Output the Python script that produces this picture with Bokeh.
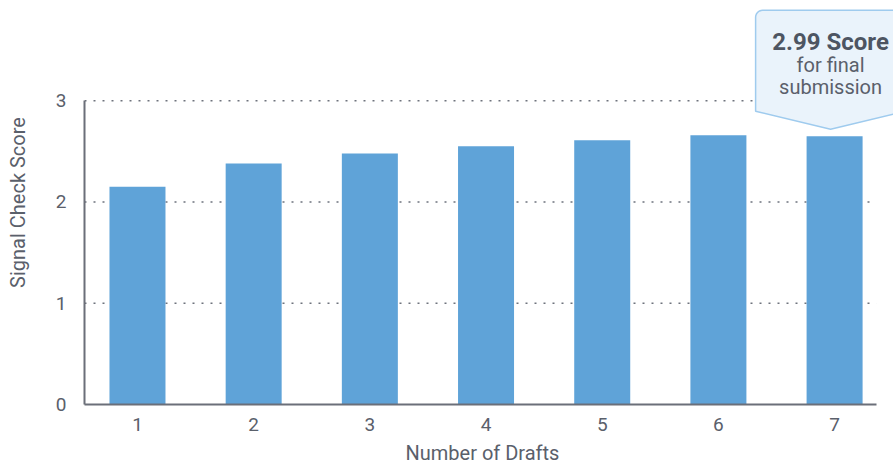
import numpy as np
from bokeh.plotting import figure
from bokeh.models import FixedTicker, Range1d, Title
from bokeh.core.properties import value
from bokeh.embed import file_html
from bokeh.resources import INLINE

# ---- data ----
drafts = [1, 2, 3, 4, 5, 6, 7]
scores = [2.15, 2.38, 2.48, 2.55, 2.61, 2.66, 2.65]
y_ticks = [0, 1, 2, 3]
grid_levels = [1, 2, 3]
x_title = "Number of Drafts"
y_title = "Signal Check Score"
callout_title = "2.99 Score"
callout_lines = ["for final", "submission"]

FONT = "Roboto"
BAR = "#5fa3d8"
AXIS = "#6b6f79"
TEXT = "#5a606b"

X0, X_AXIS_END, X1 = 0.544, 7.361, 7.507
Y0, Y1 = 0.0, 3.99

p = figure(width=893, height=469, output_backend="svg", toolbar_location=None,
           x_range=Range1d(X0, X1), y_range=Range1d(Y0, Y1),
           min_border_left=84, min_border_right=0, min_border_top=0,
           min_border_bottom=65)
p.outline_line_color = None
p.grid.visible = False

px_x = 116.2   # pixels per x unit
px_y = 101.33  # pixels per y unit

# dotted gridlines (stop at the axis end)
p.segment(x0=[X0] * len(grid_levels), x1=[X_AXIS_END] * len(grid_levels),
          y0=grid_levels, y1=grid_levels, line_color="#6e737d",
          line_width=1.6, line_dash="2 7")

p.vbar(x=drafts, top=scores, width=0.482, bottom=0, fill_color=BAR, line_color=None)

# axes
for ax in (p.xaxis[0], p.yaxis[0]):
    ax.axis_line_color = AXIS
    ax.axis_line_width = 2
    ax.major_tick_line_color = None
    ax.minor_tick_line_color = None
    ax.major_label_text_font = FONT
    ax.major_label_text_font_size = "19px"
    ax.major_label_text_color = TEXT
    ax.axis_label_text_font = FONT
    ax.axis_label_text_font_size = "20px"
    ax.axis_label_text_font_style = "normal"
    ax.axis_label_text_color = TEXT

p.xaxis.ticker = FixedTicker(ticks=drafts)
p.xaxis.bounds = (X0, X_AXIS_END)
p.xaxis.major_label_standoff = 7

# x-axis title centred under the drawn axis line (as a below-title)
p.add_layout(Title(text=x_title, align="left", offset=321, standoff=10,
                   text_font=FONT, text_font_size="20px", text_color=TEXT,
                   text_font_style="normal", vertical_align="bottom"), "below")

p.yaxis.ticker = FixedTicker(ticks=y_ticks)
p.yaxis.bounds = (0, 3)
p.yaxis.axis_label = y_title
p.yaxis.major_label_standoff = 12
p.yaxis.axis_label_standoff = 23

# ---- callout above last bar ----
cx = drafts[-1] - 4 / px_x
tip_y = scores[-1] + 7 / px_y
hw = 75 / px_x
bot_y = tip_y + 18 / px_y
top_y = tip_y + 119 / px_y
r = 7
ang = np.linspace(np.pi, np.pi / 2, 8)
arc_l_x = list(cx - hw + (r + r * np.cos(ang)) / px_x)
arc_l_y = list(top_y - (r - r * np.sin(ang)) / px_y)
ang2 = np.linspace(np.pi / 2, 0, 8)
arc_r_x = list(cx + hw - (r - r * np.cos(ang2)) / px_x)
arc_r_y = list(top_y - (r - r * np.sin(ang2)) / px_y)
xs = [cx - hw, cx, cx + hw] + list(reversed(arc_r_x)) + list(reversed(arc_l_x))
ys = [bot_y, tip_y, bot_y] + list(reversed(arc_r_y)) + list(reversed(arc_l_y))
p.patch(xs, ys, fill_color="#eaf3fb", line_color="#9fcbee", line_width=1.5)

p.text(x=[cx], y=[tip_y + 87 / px_y], text=[callout_title],
       text_font=value(FONT), text_font_size="24px", text_font_style="bold",
       text_color="#4d5562", text_align="center", text_baseline="middle")
p.text(x=[cx] * 2, y=[tip_y + 64 / px_y, tip_y + 42 / px_y], text=callout_lines,
       text_font=value(FONT), text_font_size="20px",
       text_color=TEXT, text_align="center", text_baseline="middle")

open("out.html", "w").write(file_html(p, INLINE))
